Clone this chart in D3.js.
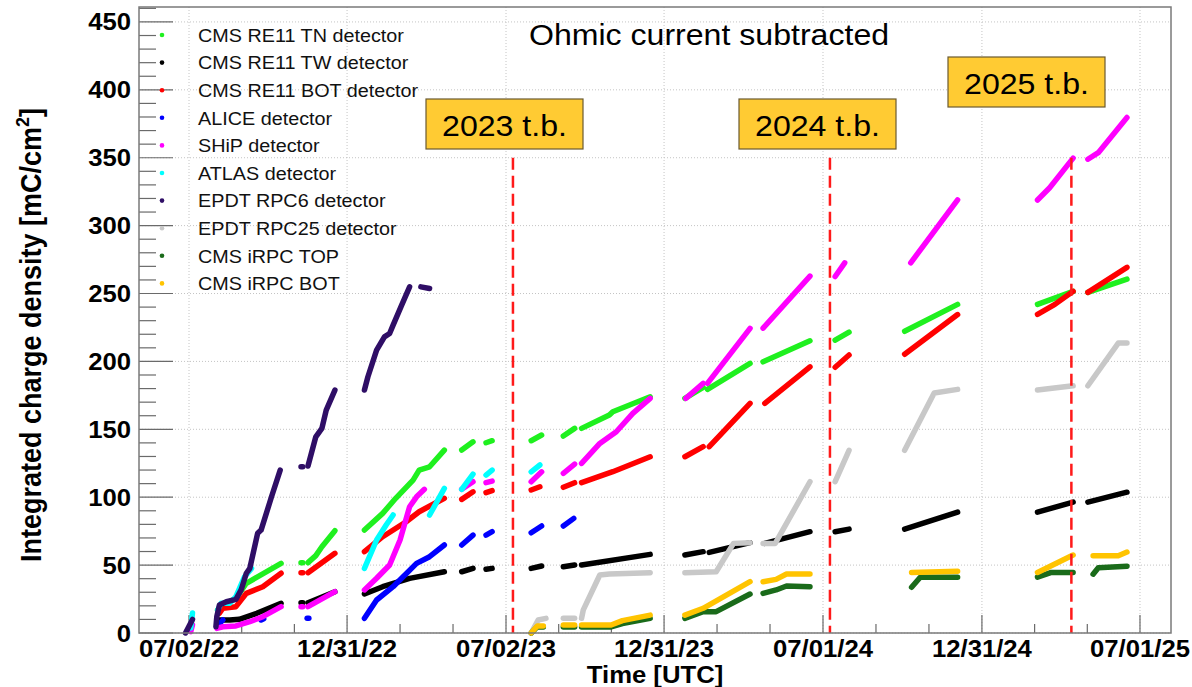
<!DOCTYPE html>
<html>
<head>
<meta charset="utf-8">
<script src="https://cdn.jsdelivr.net/npm/d3@7"></script>
<style>
  body { margin: 0; background: #fff; }
  svg { display: block; font-family: "Liberation Sans", Arial, Helvetica, sans-serif; }
</style>
</head>
<body>
<div id="chart"></div>
<script>
// ---- data ----
const seriesNames = ["CMS RE11 TN detector", "CMS RE11 TW detector", "CMS RE11 BOT detector",
  "ALICE detector", "SHiP detector", "ATLAS detector", "EPDT RPC6 detector",
  "EPDT RPC25 detector", "CMS iRPC TOP", "CMS iRPC BOT"];
const seriesColors = ["#1ff01f", "#000000", "#ff0000", "#0000ff", "#ff00ff", "#00ffff",
  "#2f0e66", "#c8c8c8", "#1a6b1a", "#ffc400"];

// each series: list of recording periods, each a list of [date, mC/cm2]
const tnData = [
  [["2022-08-04", 17], ["2022-08-10", 20.6], ["2022-08-25", 25.5], ["2022-09-06", 36.6], ["2022-10-16", 51.3]],
  [["2022-11-08", 51.8], ["2022-11-10", 51.8]],
  [["2022-11-16", 51.8], ["2022-11-25", 57], ["2022-12-02", 63.5], ["2022-12-17", 75.3]],
  [["2023-01-20", 75.8], ["2023-02-10", 88.1], ["2023-02-25", 99.2], ["2023-03-17", 112.6], ["2023-03-24", 120], ["2023-04-05", 122.4], ["2023-04-22", 134.7]],
  [["2023-05-12", 134.7], ["2023-05-25", 140.8]],
  [["2023-06-09", 140.1], ["2023-06-16", 141.6]],
  [["2023-07-31", 141.6], ["2023-08-12", 145.8]],
  [["2023-09-06", 145], ["2023-09-19", 150.7]],
  [["2023-09-27", 150.7], ["2023-10-29", 160.5], ["2023-11-02", 162.9], ["2023-12-15", 174]],
  [["2024-01-24", 172.8], ["2024-02-14", 180.9]],
  [["2024-02-19", 179.4], ["2024-04-08", 198.5]],
  [["2024-04-23", 199.7], ["2024-06-16", 215.2]],
  [["2024-07-15", 215.7], ["2024-07-31", 221.6]],
  [["2024-10-03", 222.2], ["2024-12-03", 242]],
  [["2025-03-05", 242], ["2025-04-15", 251.6]],
  [["2025-05-02", 250.8], ["2025-06-16", 260.6]]
];
const twData = [
  [["2022-08-04", 9.6], ["2022-08-18", 9.6], ["2022-08-29", 10.1], ["2022-09-18", 14.5], ["2022-10-16", 21.9]],
  [["2022-11-08", 22.3], ["2022-11-10", 22.3]],
  [["2022-11-16", 22.3], ["2022-12-17", 30.4]],
  [["2023-01-20", 28.7], ["2023-02-10", 34.1], ["2023-03-13", 40.2], ["2023-04-22", 45.1]],
  [["2023-05-12", 45.1], ["2023-05-25", 47.6]],
  [["2023-06-09", 46.9], ["2023-06-16", 47.6]],
  [["2023-07-31", 47.6], ["2023-08-12", 49.3]],
  [["2023-09-06", 48.8], ["2023-09-19", 50.1]],
  [["2023-09-27", 50.1], ["2023-12-15", 57.9]],
  [["2024-01-24", 57.4], ["2024-02-14", 59.9]],
  [["2024-02-21", 59.4], ["2024-04-08", 66.5]],
  [["2024-04-25", 66], ["2024-06-16", 74.6]],
  [["2024-07-15", 74.6], ["2024-07-31", 76.5]],
  [["2024-10-03", 76.5], ["2024-12-03", 89]],
  [["2025-03-05", 89], ["2025-04-15", 96.4]],
  [["2025-05-02", 96.4], ["2025-06-16", 103.7]]
];
const botData = [
  [["2022-08-06", 14.5], ["2022-08-10", 18.2], ["2022-08-25", 19.4], ["2022-09-06", 29.2], ["2022-09-25", 34.1], ["2022-10-16", 44]],
  [["2022-11-08", 44.4], ["2022-11-10", 44.4]],
  [["2022-11-16", 44.4], ["2022-12-17", 58.7]],
  [["2023-01-20", 59.9], ["2023-02-10", 70.9], ["2023-03-09", 81.9], ["2023-03-24", 89.3], ["2023-04-22", 99.2]],
  [["2023-05-12", 98.4], ["2023-05-25", 104]],
  [["2023-06-09", 103.3], ["2023-06-16", 104.8]],
  [["2023-07-31", 105.3], ["2023-08-10", 107.7]],
  [["2023-09-06", 107.3], ["2023-09-19", 110.7]],
  [["2023-09-27", 110.7], ["2023-11-02", 118.8], ["2023-12-15", 129.8]],
  [["2024-01-24", 129.8], ["2024-02-14", 137.2]],
  [["2024-02-21", 137.2], ["2024-04-08", 169.1]],
  [["2024-04-25", 169.1], ["2024-06-16", 196]],
  [["2024-07-15", 195.7], ["2024-07-31", 204.7]],
  [["2024-10-03", 205.3], ["2024-12-03", 234.5]],
  [["2025-03-05", 234.7], ["2025-03-25", 242], ["2025-04-15", 251.6]],
  [["2025-05-02", 250.8], ["2025-06-16", 269.3]]
];
const aliceData = [
  [["2022-08-03", 4.6], ["2022-08-10", 9.6]],
  [["2022-09-23", 9.6], ["2022-09-26", 10.5]],
  [["2022-11-15", 10.8], ["2022-11-17", 10.8]],
  [["2023-01-20", 10.8], ["2023-02-03", 24.3], ["2023-02-22", 34.1], ["2023-03-21", 51.3], ["2023-04-05", 56.2], ["2023-04-22", 64.8]],
  [["2023-05-12", 64.8], ["2023-05-25", 72.1]],
  [["2023-06-09", 72.1], ["2023-06-16", 74.6]],
  [["2023-07-31", 73.8], ["2023-08-12", 78.8]],
  [["2023-09-06", 78.8], ["2023-09-18", 84.4]]
];
const shipData = [
  [["2022-07-04", 1], ["2022-07-06", 6]],
  [["2022-08-03", 3.4], ["2022-08-10", 4.6], ["2022-08-25", 5.2], ["2022-09-10", 8.3], ["2022-09-25", 12], ["2022-10-16", 19.4]],
  [["2022-11-08", 19.4], ["2022-11-10", 19.4]],
  [["2022-11-16", 19.4], ["2022-12-17", 30.4]],
  [["2023-01-20", 31.7], ["2023-02-03", 40.3], ["2023-02-18", 50.1], ["2023-03-02", 68.5], ["2023-03-13", 93], ["2023-03-21", 100.3], ["2023-03-30", 105.8]],
  [["2023-05-12", 105.8], ["2023-05-25", 111.4]],
  [["2023-06-09", 110.7], ["2023-06-16", 111.9]],
  [["2023-07-31", 111.4], ["2023-08-12", 118.7]],
  [["2023-09-06", 117.6], ["2023-09-19", 124.4]],
  [["2023-09-27", 124.9], ["2023-10-18", 139.6], ["2023-11-06", 148.2], ["2023-11-25", 161.7], ["2023-12-15", 172.8]],
  [["2024-01-25", 172.8], ["2024-02-14", 183.8]],
  [["2024-02-19", 183.8], ["2024-04-08", 224.3]],
  [["2024-04-23", 224.5], ["2024-06-16", 262.8]],
  [["2024-07-15", 262.5], ["2024-07-26", 272.6]],
  [["2024-10-10", 272.6], ["2024-12-03", 318.9]],
  [["2025-03-05", 318.9], ["2025-03-19", 327.9], ["2025-04-15", 349.7]],
  [["2025-05-02", 348.9], ["2025-05-14", 353.7], ["2025-06-16", 379.6]]
];
const atlasData = [
  [["2022-07-04", 3.7], ["2022-07-06", 14.7]],
  [["2022-08-04", 17], ["2022-08-08", 21.9], ["2022-08-18", 21.9], ["2022-08-25", 26.8], ["2022-09-04", 41.5], ["2022-09-12", 47.6]],
  [["2023-01-20", 47.6], ["2023-02-03", 68.5], ["2023-02-14", 79.5], ["2023-02-22", 86.9]],
  [["2023-04-05", 86.9], ["2023-04-22", 106.5]],
  [["2023-05-12", 105.8], ["2023-05-25", 117]],
  [["2023-06-09", 116.3], ["2023-06-16", 120]],
  [["2023-07-31", 118.7], ["2023-08-10", 123.7]]
];
const rpc6Data = [
  [["2022-06-28", 0], ["2022-07-06", 10]],
  [["2022-08-02", 4.6], ["2022-08-03", 12], ["2022-08-06", 20.6], ["2022-08-14", 23], ["2022-08-25", 24.8], ["2022-08-31", 31.7], ["2022-09-06", 44], ["2022-09-10", 47.6], ["2022-09-19", 73.4], ["2022-09-23", 75.8], ["2022-10-05", 100.3], ["2022-10-15", 120]],
  [["2022-11-08", 122.4], ["2022-11-10", 122.4]],
  [["2022-11-16", 123], ["2022-11-25", 144.5], ["2022-12-02", 150.7], ["2022-12-07", 164.2], ["2022-12-17", 178.9]],
  [["2023-01-20", 178.9], ["2023-01-24", 188.7], ["2023-02-03", 208.3], ["2023-02-12", 218.1], ["2023-02-18", 220.6], ["2023-02-22", 226.7], ["2023-03-03", 240.2], ["2023-03-13", 254.9]],
  [["2023-03-26", 254.9], ["2023-04-05", 253.7]]
];
const rpc25Data = [
  [["2023-07-31", 0], ["2023-08-08", 9.6], ["2023-08-17", 10.8]],
  [["2023-09-06", 10.8], ["2023-09-19", 10.8]],
  [["2023-09-27", 10.8], ["2023-09-29", 17], ["2023-10-18", 42.7], ["2023-10-29", 43.4], ["2023-12-15", 44.4]],
  [["2024-01-24", 44.4], ["2024-02-29", 45.1], ["2024-03-20", 66], ["2024-04-08", 66.5]],
  [["2024-04-23", 66], ["2024-05-07", 66], ["2024-06-16", 111.4]],
  [["2024-07-15", 111.4], ["2024-07-31", 134.5]],
  [["2024-10-03", 134.5], ["2024-11-06", 176.7], ["2024-12-03", 179.4]],
  [["2025-03-05", 178.9], ["2025-04-15", 182.1]],
  [["2025-05-02", 182.1], ["2025-06-06", 213.5], ["2025-06-16", 213.5]]
];
const irpcTopData = [
  [["2023-07-31", 0], ["2023-08-07", 4.5], ["2023-08-14", 4.5]],
  [["2023-09-06", 4.5], ["2023-09-19", 4.5]],
  [["2023-09-27", 4.5], ["2023-10-31", 4.5], ["2023-11-13", 7], ["2023-12-15", 10.8]],
  [["2024-01-24", 10.8], ["2024-02-14", 15.7], ["2024-02-29", 15.7], ["2024-04-08", 28.7]],
  [["2024-04-23", 29.2], ["2024-05-08", 31.7], ["2024-05-20", 34.6], ["2024-06-16", 34.1]],
  [["2024-10-11", 33.7], ["2024-10-21", 41.1], ["2024-12-03", 41.1]],
  [["2025-03-05", 41.1], ["2025-03-21", 44.6], ["2025-04-15", 44.6]],
  [["2025-05-08", 43.3], ["2025-05-14", 48.1], ["2025-06-16", 49.2]]
];
const irpcBotData = [
  [["2023-07-31", 0], ["2023-08-07", 5.2], ["2023-08-14", 5.2]],
  [["2023-09-06", 5.9], ["2023-09-19", 5.9]],
  [["2023-09-27", 5.9], ["2023-10-31", 5.9], ["2023-11-13", 9.1], ["2023-12-15", 13.2]],
  [["2024-01-24", 13.2], ["2024-02-14", 18.2], ["2024-04-08", 37.8]],
  [["2024-04-23", 37.8], ["2024-05-08", 39.5], ["2024-05-20", 43.4], ["2024-06-16", 43.4]],
  [["2024-10-11", 44.6], ["2024-12-03", 45.4]],
  [["2025-03-05", 44.6], ["2025-04-15", 57.4]],
  [["2025-05-08", 56.9], ["2025-06-06", 56.9], ["2025-06-16", 59.6]]
];

const xTickDates = ["2022-07-02", "2022-12-31", "2023-07-02", "2023-12-31", "2024-07-01", "2024-12-31", "2025-07-01"];
const yTickValues = [0, 50, 100, 150, 200, 250, 300, 350, 400, 450];
const testBeamDates = ["2023-07-10", "2024-07-09", "2025-04-13"];
const testBeamLabels = ["2023 t.b.", "2024 t.b.", "2025 t.b."];
const testBeamTop = 350;

// ---- layout ----
const width = 1192, height = 687;
const plot = { left: 139, right: 1171, top: 7, bottom: 633 };
const boxLayout = [{ x: 426, y: 99 }, { x: 739, y: 99 }, { x: 948, y: 57 }];
const stretch = 1.07; // the source picture is slightly wider than tall

const parse = d3.utcParse("%Y-%m-%d");
const fmt = d3.utcFormat("%m/%d/%y");

const x = d3.scaleUtc()
  .domain([new Date("2022-05-05T10:00:00Z"), new Date("2025-08-05T17:00:00Z")])
  .range([plot.left, plot.right]);
const y = d3.scaleLinear().domain([0, 461]).range([plot.bottom, plot.top]);

const svg = d3.select("#chart").append("svg")
  .attr("width", width).attr("height", height);

function addText(sel, px, py, str, size, opts = {}) {
  return sel.append("text")
    .attr("transform", `translate(${px},${py}) ${opts.rotate ? "rotate(-90) scale(1," + stretch + ")" : "scale(" + stretch + ",1)"}`)
    .attr("text-anchor", opts.anchor || "start")
    .attr("font-size", size)
    .attr("font-weight", opts.bold ? "bold" : "normal")
    .attr("fill", opts.color || "#000")
    .text(str);
}

// grid
const majorX = xTickDates.map(parse);
const grid = svg.append("g").attr("stroke", "#c4c4c4").attr("stroke-dasharray", "1,2").attr("stroke-width", 1);
majorX.forEach(d => grid.append("line").attr("x1", x(d)).attr("x2", x(d)).attr("y1", plot.top).attr("y2", plot.bottom));
yTickValues.forEach(v => grid.append("line").attr("x1", plot.left).attr("x2", plot.right).attr("y1", y(v)).attr("y2", y(v)));

// ticks
const ticks = svg.append("g").attr("stroke", "#6a6a6a").attr("stroke-width", 1.2);
const minorX = [];
for (let i = 0; i < majorX.length - 1; i++) {
  const a = +majorX[i], b = +majorX[i + 1];
  minorX.push(new Date(a + (b - a) / 3), new Date(a + 2 * (b - a) / 3));
}
majorX.forEach(d => ticks.append("line").attr("x1", x(d)).attr("x2", x(d)).attr("y1", plot.bottom).attr("y2", plot.bottom - 18));
minorX.forEach(d => ticks.append("line").attr("x1", x(d)).attr("x2", x(d)).attr("y1", plot.bottom).attr("y2", plot.bottom - 9));
d3.range(0, 461, 10).forEach(v => {
  const len = v % 50 === 0 ? 34 : 17;
  ticks.append("line").attr("x1", plot.left).attr("x2", plot.left + len).attr("y1", y(v)).attr("y2", y(v));
});

// data
const allSeries = [tnData, twData, botData, aliceData, shipData, atlasData, rpc6Data, rpc25Data, irpcTopData, irpcBotData];
const line = d3.line().x(d => x(parse(d[0]))).y(d => y(d[1]));
const dataG = svg.append("g").attr("fill", "none")
  .attr("stroke-width", 5.5).attr("stroke-linecap", "round").attr("stroke-linejoin", "round");
allSeries.forEach((segments, i) => {
  dataG.selectAll(null).data(segments).enter().append("path")
    .attr("d", line)
    .attr("stroke", seriesColors[i]);
});

// test beam markers
const tb = svg.append("g");
testBeamDates.forEach((d, i) => {
  const xx = x(parse(d));
  tb.append("line").attr("x1", xx).attr("x2", xx).attr("y1", y(testBeamTop)).attr("y2", y(0))
    .attr("stroke", "#ff1a1a").attr("stroke-width", 2.5).attr("stroke-dasharray", "12,6");
  const b = boxLayout[i];
  tb.append("rect").attr("x", b.x).attr("y", b.y).attr("width", 157).attr("height", 50)
    .attr("fill", "#ffcb33").attr("stroke", "#6b5a30").attr("stroke-width", 1.2);
  addText(tb, b.x + 78.5, b.y + 37, testBeamLabels[i], 30, { anchor: "middle" });
});

// frame
svg.append("rect").attr("x", plot.left).attr("y", plot.top)
  .attr("width", plot.right - plot.left).attr("height", plot.bottom - plot.top)
  .attr("fill", "none").attr("stroke", "#7a7a7a").attr("stroke-width", 1.5);

// tick labels
yTickValues.forEach(v => addText(svg, 131, y(v) + 8.5, v, 24, { anchor: "end", bold: true }));
majorX.forEach(d => addText(svg, x(d), 657, fmt(d), 24, { anchor: "middle", bold: true }));

// axis titles
addText(svg, 655, 683, "Time [UTC]", 24, { anchor: "middle", bold: true });
const yt = addText(svg, 41, 335, "Integrated charge density [mC/cm", 27, { anchor: "middle", bold: true, rotate: true });
yt.append("tspan").attr("font-size", 18).attr("dy", -11).text("2");
yt.append("tspan").attr("dy", 11).text("]");

// title
addText(svg, 709, 45, "Ohmic current subtracted", 30, { anchor: "middle" });

// legend
const legend = svg.append("g");
seriesNames.forEach((name, i) => {
  const cy = 35 + 27.6 * i;
  legend.append("circle").attr("cx", 162).attr("cy", cy).attr("r", 2.3).attr("fill", seriesColors[i]);
  addText(legend, 198, cy + 6.8, name, 18.5, { color: "#111" });
});
</script>
</body>
</html>
